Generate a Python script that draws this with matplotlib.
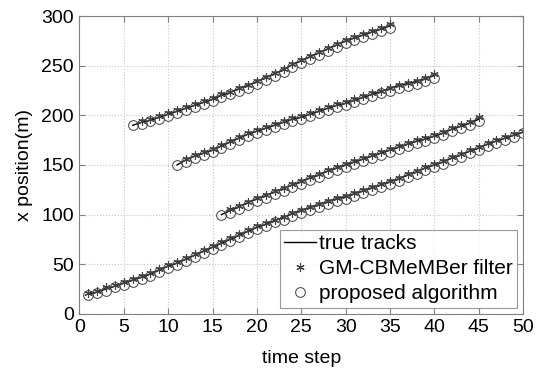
import matplotlib.pyplot as plt
import numpy as np

plt.rcParams['font.family'] = ['Liberation Sans', 'DejaVu Sans']

# true tracks (start time, x position per step)
t1_start, t2_start, t3_start, t4_start = 1, 6, 11, 16
track1 = [20, 22, 25, 28, 31, 34, 37, 40, 44, 48, 51, 55, 59, 63, 67, 71, 75, 79, 83, 87,
          90, 94, 97, 101, 104, 107, 110, 113, 116, 118, 121, 124, 127, 130, 133, 136, 140, 143, 147, 150,
          153, 157, 160, 164, 167, 171, 174, 177, 180, 183]
track2 = [190, 193, 195, 198, 201, 204, 207, 210, 213, 216, 220, 223, 227, 230, 234,
          238, 242, 246, 251, 255, 259, 263, 267, 271, 275, 278, 281, 284, 287, 290]
track3 = [150, 155, 159, 162, 165, 169, 173, 177, 181, 184, 187, 190, 193, 196, 198,
          201, 204, 207, 210, 212, 215, 218, 221, 224, 227, 230, 232, 234, 237, 240]
track4 = [100, 104, 108, 112, 116, 119, 123, 126, 130, 133, 137, 140, 144, 147, 150,
          153, 156, 159, 162, 165, 168, 171, 174, 176, 179, 182, 186, 189, 192, 196]

# GM-CBMeMBer filter estimates (start one step after birth)
cb1 = [21, 23, 27, 29, 32, 35, 38, 41, 45, 49, 52, 56, 60, 64, 68, 72, 76, 80, 84, 88,
       91, 95, 98, 102, 105, 108, 111, 114, 117, 119, 122, 125, 128, 131, 134, 137, 141, 144, 148, 151,
       154, 158, 161, 165, 168, 172, 175, 178, 181, 184]
cb2 = [194, 196, 199, 202, 205, 208, 211, 214, 217, 221, 224, 228, 231, 235, 239,
       243, 247, 252, 256, 260, 264, 268, 272, 276, 279, 282, 285, 288, 292]
cb3 = [156, 160, 163, 166, 170, 174, 178, 182, 185, 188, 191, 194, 197, 199, 202,
       205, 208, 211, 213, 216, 219, 222, 225, 228, 231, 233, 235, 238, 242]
cb4 = [106, 109, 113, 117, 120, 124, 127, 131, 134, 138, 141, 145, 148, 151, 154,
       157, 160, 163, 166, 169, 172, 175, 177, 180, 183, 187, 190, 193, 198]

# proposed algorithm estimates
pa1 = [19, 21, 23, 27, 29, 32, 35, 38, 42, 46, 49, 53, 57, 61, 65, 69, 73, 77, 81, 85,
       88, 92, 95, 99, 102, 105, 108, 111, 114, 116, 119, 122, 125, 128, 131, 134, 138, 141, 145, 148,
       151, 155, 158, 162, 165, 169, 172, 175, 178, 182]
pa2 = [190, 191, 194, 196, 199, 202, 205, 208, 211, 214, 218, 221, 225, 228, 232,
       236, 240, 244, 249, 253, 257, 261, 265, 269, 273, 276, 279, 282, 285, 288]
pa3 = [150, 153, 157, 160, 163, 167, 171, 175, 179, 182, 185, 188, 191, 194, 196,
       199, 202, 205, 208, 210, 213, 216, 219, 222, 225, 228, 230, 232, 235, 238]
pa4 = [100, 102, 106, 110, 114, 117, 121, 124, 128, 131, 135, 138, 142, 145, 148,
       151, 154, 157, 160, 163, 166, 169, 172, 174, 177, 180, 184, 187, 190, 194]

tracks = [(t1_start, track1, cb1, pa1), (t2_start, track2, cb2, pa2),
          (t3_start, track3, cb3, pa3), (t4_start, track4, cb4, pa4)]

fig = plt.figure(figsize=(5.37, 3.74), dpi=100)
ax = fig.add_axes([0.148, 0.161, 0.826, 0.796])

mk_col = "#404040"
for i, (s, tr, cb, pa) in enumerate(tracks):
    t = np.arange(s, s + len(tr))
    ax.plot(t, tr, color="black", lw=1.0, label="true tracks" if i == 0 else None)
    tc = np.arange(s + len(tr) - len(cb), s + len(tr))
    ax.plot(tc, cb, ls="none", marker=(6, 2, 0), ms=6, mec=mk_col, mew=0.8,
            label="GM-CBMeMBer filter" if i == 0 else None)
    ax.plot(t, pa, ls="none", marker="o", ms=7, mfc="none", mec=mk_col, mew=0.7,
            label="proposed algorithm" if i == 0 else None)

ax.set_xlim(0, 50)
ax.set_ylim(0, 300)
ax.set_xticks(np.arange(0, 51, 5))
ax.set_yticks(np.arange(0, 301, 50))
ax.tick_params(direction="in", top=True, right=True, labelsize=14, color="#808080",
               length=4, pad=4)
for sp in ax.spines.values():
    sp.set_color("#808080")
ax.grid(True, ls=":", color="#c8c8c8", lw=0.8)
ax.set_xlabel("time step", fontsize=14, labelpad=10)
ax.set_ylabel("x position(m)", fontsize=14, labelpad=6)

leg = ax.legend(loc="lower right", fontsize=15, fancybox=False, edgecolor="#808080",
                handlelength=1.5, handletextpad=0.15, borderaxespad=0.3, labelspacing=0.3,
                borderpad=0.2)
leg.get_frame().set_linewidth(0.8)

fig.savefig("out.png", dpi=100)
